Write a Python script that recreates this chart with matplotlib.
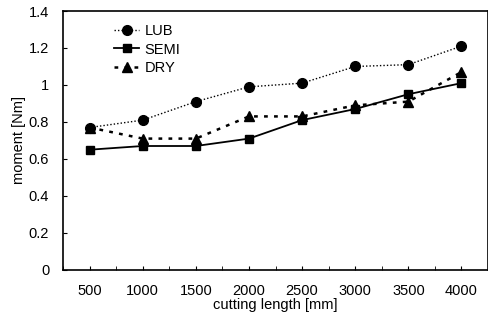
import numpy as np
from matplotlib import pyplot as plt

# Data
lengths = ["500", "1000", "1500", "2000", "2500", "3000", "3500", "4000"]
lub = [0.77, 0.81, 0.91, 0.99, 1.01, 1.10, 1.11, 1.21]
semi = [0.65, 0.67, 0.67, 0.71, 0.81, 0.87, 0.95, 1.01]
dry = [0.77, 0.71, 0.71, 0.83, 0.83, 0.89, 0.91, 1.07]

plt.rcParams["font.family"] = ["Liberation Sans", "DejaVu Sans"]

fig = plt.figure(figsize=(4.89, 3.24), dpi=100)
ax = fig.add_axes([0.129, 0.167, 0.869, 0.799])

x = np.arange(len(lengths))
ax.plot(x, lub, color="black", linestyle=(0, (1, 1.5)), linewidth=1.0,
        marker="o", markersize=7, label="LUB")
ax.plot(x, semi, color="black", linestyle="-", linewidth=1.3,
        marker="s", markersize=6, label="SEMI")
ax.plot(x, dry, color="black", linestyle=(0, (1.5, 2.5)), linewidth=1.8,
        marker="^", markersize=7, label="DRY")

ax.set_xlim(-0.5, len(lengths) - 0.5)
ax.set_ylim(0, 1.4)
ax.set_xticks(x)
ax.set_xticklabels(lengths)
ax.set_xticks(np.arange(-0.5, len(lengths), 1.0), minor=True)
ax.set_yticks(np.arange(0, 1.41, 0.2))
ax.set_yticklabels(["0", "0.2", "0.4", "0.6", "0.8", "1", "1.2", "1.4"])
ax.tick_params(which="both", direction="in", length=3, labelsize=10.5)
ax.tick_params(axis="x", which="major", pad=10)
ax.tick_params(axis="y", pad=10)

for spine in ax.spines.values():
    spine.set_linewidth(1.2)

ax.set_xlabel("cutting length [mm]", fontsize=10.5, labelpad=0)
ax.set_ylabel("moment [Nm]", fontsize=10.5, labelpad=2)

ax.legend(loc="upper left", bbox_to_anchor=(0.09, 1.0), frameon=False,
          fontsize=10.5, handlelength=1.7, handletextpad=0.35,
          labelspacing=0.3)

fig.savefig("out.png", dpi=100)
